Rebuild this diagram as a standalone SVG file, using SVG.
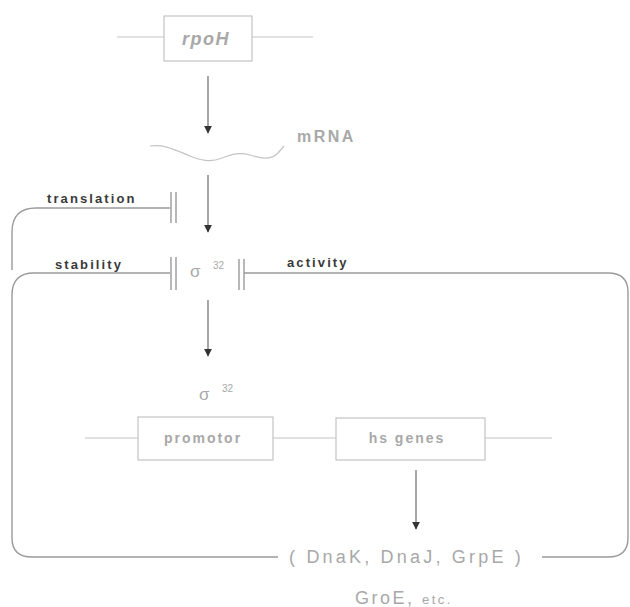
<svg xmlns="http://www.w3.org/2000/svg" width="630" height="607" viewBox="0 0 630 607">
<style>
.ln{fill:none;stroke:#9a9a9a;stroke-width:1.4}
.gl{fill:none;stroke:#c4c4c4;stroke-width:1.2}
.bx{fill:#fff;stroke:#c4c4c4;stroke-width:1.2}
.bar{stroke:#9a9a9a;stroke-width:1.4}
.ar{fill:none;stroke:#777;stroke-width:1.3}
.lbl{font-family:"Liberation Sans",Arial,sans-serif;font-weight:bold;font-size:13px;fill:#3a3a3a;letter-spacing:2.1px}
.gt{font-family:"Liberation Sans",Arial,sans-serif;fill:#a8a8a8}
</style>
<defs>
<marker id="ah" viewBox="0 0 10 10" refX="9" refY="5" markerWidth="8" markerHeight="8" markerUnits="userSpaceOnUse" orient="auto">
<path d="M0,0 L10,5 L0,10 Z" fill="#333"/>
</marker>
</defs>
<g id="connectors">
<line class="ar" x1="208" y1="76" x2="208" y2="133" marker-end="url(#ah)"/>
<line class="ar" x1="208" y1="175" x2="208" y2="232" marker-end="url(#ah)"/>
<line class="ar" x1="208" y1="300" x2="208" y2="356" marker-end="url(#ah)"/>
<line class="ar" x1="416" y1="470" x2="416" y2="529" marker-end="url(#ah)"/>
<path class="ln" d="M170,208 H36 Q12,208 12,232 V270"/>
<path class="ln" d="M170,273 H34 Q12,273 12,295 V538 Q12,557 32,557 H278"/>
<path class="ln" d="M244,273 H608 Q628,273 628,292 V538 Q628,557 608,557 H542"/>
<line class="bar" x1="171" y1="192" x2="171" y2="223"/>
<line class="bar" x1="176" y1="192" x2="176" y2="223"/>
<line class="bar" x1="171" y1="257" x2="171" y2="290"/>
<line class="bar" x1="176" y1="257" x2="176" y2="290"/>
<line class="bar" x1="239" y1="259" x2="239" y2="290"/>
<line class="bar" x1="244" y1="259" x2="244" y2="290"/>
</g>
<g id="rpoH">
<line class="gl" x1="117" y1="37" x2="164" y2="37"/>
<line class="gl" x1="252" y1="37" x2="313" y2="37"/>
<rect class="bx" x="164" y="16" width="88" height="45"/>
<text class="gt" x="206" y="45" text-anchor="middle" font-size="18" font-style="italic" font-weight="bold" letter-spacing="1.5">rpoH</text>
</g>
<g id="mRNA">
<path class="gl" d="M150,146 C165,144 175,150 190,156 C200,160 210,163 222,158 C232,154 240,152 250,155 C260,158 270,161 278,153 L284,146"/>
<text class="gt" x="297" y="142" font-size="16" font-weight="bold" letter-spacing="2.5">mRNA</text>
</g>
<g id="sigma32-top">
<text class="gt" x="190" y="277" font-size="17">σ</text>
<text class="gt" x="213" y="269" font-size="10">32</text>
</g>
<g id="labels">
<text class="lbl" x="47" y="203">translation</text>
<text class="lbl" x="55" y="269">stability</text>
<text class="lbl" x="287" y="267">activity</text>
</g>
<g id="sigma32-bottom">
<text class="gt" x="199" y="400" font-size="17">σ</text>
<text class="gt" x="222" y="392" font-size="10">32</text>
</g>
<g id="promotor">
<line class="gl" x1="85" y1="438" x2="138" y2="438"/>
<line class="gl" x1="273" y1="438" x2="336" y2="438"/>
<rect class="bx" x="138" y="417" width="135" height="43"/>
<text class="gt" x="203" y="443" text-anchor="middle" font-size="14" font-weight="bold" letter-spacing="2">promotor</text>
</g>
<g id="hs-genes">
<line class="gl" x1="485" y1="438" x2="552" y2="438"/>
<rect class="bx" x="336" y="418" width="149" height="42"/>
<text class="gt" x="407" y="443" text-anchor="middle" font-size="14" font-weight="bold" letter-spacing="2">hs genes</text>
</g>
<g id="products">
<text class="gt" x="289" y="563" font-size="18" letter-spacing="3.2">( DnaK, DnaJ, GrpE )</text>
<text class="gt" x="355" y="604" font-size="18" letter-spacing="2.5">GroE, <tspan font-size="13">etc.</tspan></text>
</g>
</svg>
